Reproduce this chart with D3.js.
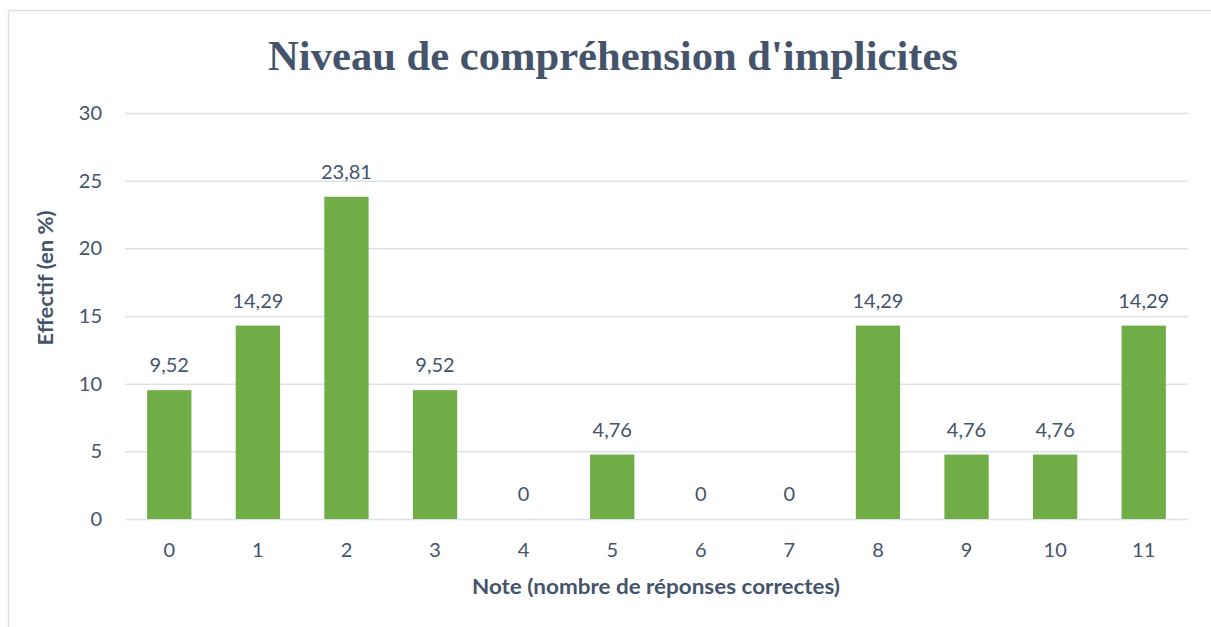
<!DOCTYPE html>
<html>
<head>
<meta charset="utf-8">
<script src="https://cdn.jsdelivr.net/npm/d3@7"></script>
<style>
  html, body { margin: 0; padding: 0; background: #fff; }
  svg { display: block; }
</style>
</head>
<body>
<svg id="chart" width="1211" height="627"></svg>
<script>
const categories = ["0","1","2","3","4","5","6","7","8","9","10","11"];
const values = [9.52, 14.29, 23.81, 9.52, 0, 4.76, 0, 0, 14.29, 4.76, 4.76, 14.29];
const yTicks = [0, 5, 10, 15, 20, 25, 30];
const titleText = "Niveau de compréhension d'implicites";
const xTitle = "Note (nombre de réponses correctes)";
const yTitle = "Effectif (en %)";

const svg = d3.select("#chart");
const textColor = "#44546A";
const gridColor = "#DDE2E9";
const barColor = "#70AD47";

// chart border
svg.append("rect").attr("x", 8.5).attr("y", 10.5).attr("width", 1220).attr("height", 640)
  .attr("fill", "none").attr("stroke", "#DCE1E8").attr("stroke-width", 1.5);

const x = d3.scaleBand().domain(categories).range([125, 1188]).paddingInner(0.5).paddingOuter(0.25);
const y = d3.scaleLinear().domain([0, 30]).range([519, 113]);

// gridlines
const yAxis = d3.axisLeft(y).tickValues(yTicks).tickSize(-(1188 - 125)).tickFormat(d3.format("d")).tickPadding(23);
const gy = svg.append("g").attr("transform", "translate(125,0)").call(yAxis);
gy.select(".domain").remove();
gy.selectAll(".tick line").attr("stroke", gridColor).attr("stroke-width", 1.5);
gy.selectAll(".tick text").attr("fill", textColor).attr("font-family", "Lato, sans-serif")
  .attr("font-size", 20);

// bars
svg.append("g").selectAll("rect").data(values).join("rect")
  .attr("x", (d, i) => x(categories[i]))
  .attr("width", x.bandwidth())
  .attr("y", d => y(d))
  .attr("height", d => y(0) - y(d))
  .attr("fill", barColor);

// data labels
svg.append("g").selectAll("text").data(values).join("text")
  .attr("x", (d, i) => x(categories[i]) + x.bandwidth() / 2)
  .attr("y", d => y(d) - 18)
  .attr("text-anchor", "middle")
  .attr("fill", textColor)
  .attr("font-family", "Lato, sans-serif")
  .attr("font-size", 20)
  .text(d => d3.format(".2~f")(d).replace(".", ","));

// x axis
const xAxis = d3.axisBottom(x).tickSize(0).tickPadding(24);
const gx = svg.append("g").attr("transform", "translate(0,519)").call(xAxis);
gx.select(".domain").remove();
gx.selectAll(".tick text").attr("fill", textColor).attr("font-family", "Lato, sans-serif")
  .attr("font-size", 20);

// title
svg.append("text").attr("x", 613).attr("y", 70).attr("text-anchor", "middle")
  .attr("fill", textColor).attr("font-family", "'Liberation Serif', 'Times New Roman', serif")
  .attr("font-weight", "bold").attr("font-size", 42.6).text(titleText);

// axis titles
svg.append("text").attr("x", 656).attr("y", 594).attr("text-anchor", "middle")
  .attr("fill", textColor).attr("font-family", "Lato, sans-serif")
  .attr("font-weight", "bold").attr("font-size", 20.5)
  .attr("textLength", 368).attr("lengthAdjust", "spacingAndGlyphs").text(xTitle);

svg.append("text").attr("transform", "translate(53,278) rotate(-90)").attr("text-anchor", "middle")
  .attr("fill", textColor).attr("font-family", "Lato, sans-serif")
  .attr("font-weight", "bold").attr("font-size", 20.5)
  .attr("textLength", 135).attr("lengthAdjust", "spacingAndGlyphs").text(yTitle);
</script>
</body>
</html>
